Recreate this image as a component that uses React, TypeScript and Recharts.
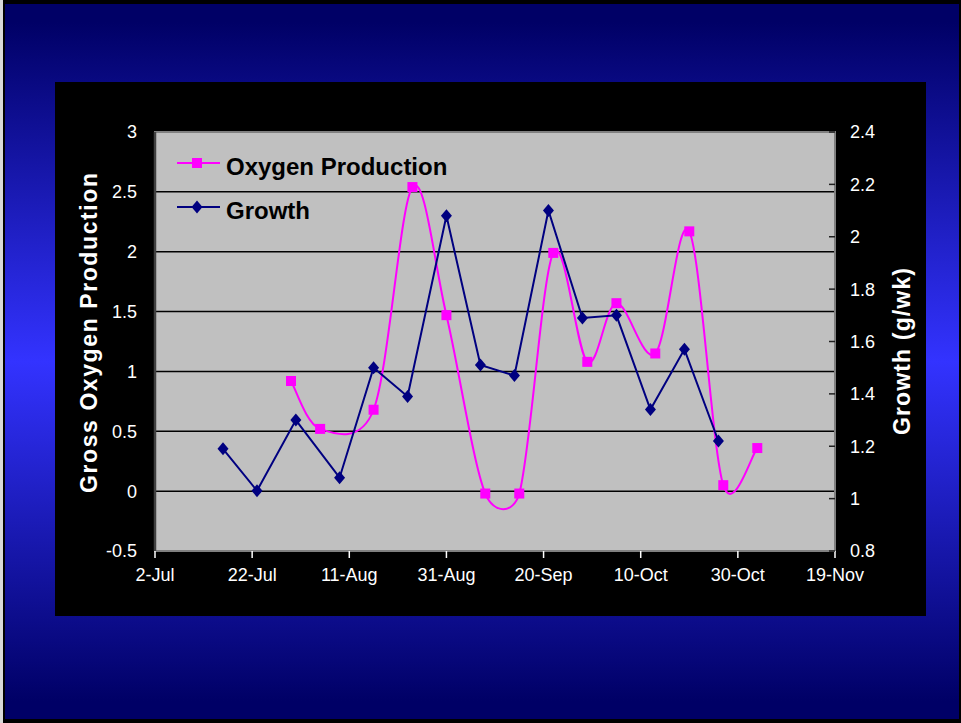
import React from 'react';
import {
  LineChart,
  Line,
  XAxis,
  YAxis,
  CartesianGrid,
  ReferenceArea,
  Customized,
} from 'recharts';

// Sampling days, counted from 2 July
const growthDays = [14, 21, 29, 38, 45, 52, 60, 67, 74, 81, 88, 95, 102, 109, 116];
const growthValues = [1.19, 1.03, 1.3, 1.08, 1.5, 1.39, 2.08, 1.51, 1.47, 2.1, 1.69, 1.7, 1.34, 1.57, 1.22];

const oxygenDays = [28, 34, 45, 53, 60, 68, 75, 82, 89, 95, 103, 110, 117, 124];
const oxygenValues = [0.92, 0.52, 0.68, 2.54, 1.47, -0.02, -0.02, 1.99, 1.08, 1.57, 1.15, 2.17, 0.05, 0.36];

const xTicks = [0, 20, 40, 60, 80, 100, 120, 140];
const xTickLabels = ['2-Jul', '22-Jul', '11-Aug', '31-Aug', '20-Sep', '10-Oct', '30-Oct', '19-Nov'];

const leftTicks = [-0.5, 0, 0.5, 1, 1.5, 2, 2.5, 3];
const rightTicks = [0.8, 1, 1.2, 1.4, 1.6, 1.8, 2, 2.2, 2.4];

const legendItems = [
  { name: 'Oxygen Production', color: '#FF00FF', marker: 'square' },
  { name: 'Growth', color: '#000080', marker: 'diamond' },
];

const growthData = growthDays.map((day, i) => ({ day, value: growthValues[i] }));
const oxygenData = oxygenDays.map((day, i) => ({ day, value: oxygenValues[i] }));

const FONT = "'Liberation Sans', Arial, Helvetica, sans-serif";
const MAGENTA = '#FF00FF';
const NAVY = '#000080';

// Smoothed spline in the style of spreadsheet "smoothed line" charts:
// cubic Bezier segments with Catmull-Rom tangents, clamped on short segments.
function controlPoint(
  p: number[],
  prev: number[],
  next: number[],
  seg: number,
  sign: number
): number[] {
  let dx = (next[0] - prev[0]) / 6;
  let dy = (next[1] - prev[1]) / 6;
  const len = Math.hypot(dx, dy);
  const max = seg * 0.65;
  if (len > max && len > 0) {
    dx *= max / len;
    dy *= max / len;
  }
  return [p[0] + sign * dx, p[1] + sign * dy];
}

function smoothCurve(context: any) {
  let pts: number[][] = [];
  return {
    areaStart() {},
    areaEnd() {},
    lineStart() {
      pts = [];
    },
    point(x: number, y: number) {
      pts.push([+x, +y]);
    },
    lineEnd() {
      const n = pts.length;
      if (n === 0) return;
      context.moveTo(pts[0][0], pts[0][1]);
      for (let i = 0; i < n - 1; i++) {
        const p0 = pts[Math.max(i - 1, 0)];
        const p1 = pts[i];
        const p2 = pts[i + 1];
        const p3 = pts[Math.min(i + 2, n - 1)];
        const seg = Math.hypot(p2[0] - p1[0], p2[1] - p1[1]);
        const c1 = controlPoint(p1, p0, p2, seg, 1);
        const c2 = controlPoint(p2, p1, p3, seg, -1);
        context.bezierCurveTo(c1[0], c1[1], c2[0], c2[1], p2[0], p2[1]);
      }
    },
  };
}

const SquareDot = (props: any) => {
  const { cx, cy, index } = props;
  if (cx == null || cy == null) return <g key={`sq-${index}`} />;
  return <rect key={`sq-${index}`} x={cx - 5} y={cy - 5} width={10} height={10} fill={MAGENTA} />;
};

const DiamondDot = (props: any) => {
  const { cx, cy, index } = props;
  if (cx == null || cy == null) return <g key={`dm-${index}`} />;
  return (
    <polygon
      key={`dm-${index}`}
      points={`${cx},${cy - 6.5} ${cx + 5.5},${cy} ${cx},${cy + 6.5} ${cx - 5.5},${cy}`}
      fill={NAVY}
    />
  );
};

const LegendBlock = () => (
  <g>
    {legendItems.map((item, i) => {
      const y = 81 + i * 44;
      const mx = 142;
      return (
        <g key={item.name}>
          <line x1={122} x2={165} y1={y} y2={y} stroke={item.color} strokeWidth={2} />
          {item.marker === 'square' ? (
            <rect x={mx - 5} y={y - 5} width={10} height={10} fill={item.color} />
          ) : (
            <polygon
              points={`${mx},${y - 6.5} ${mx + 5.5},${y} ${mx},${y + 6.5} ${mx - 5.5},${y}`}
              fill={item.color}
            />
          )}
          <text
            x={171}
            y={y + 11.5}
            fontFamily={FONT}
            fontWeight="bold"
            fontSize={24}
            fill="#000000"
          >
            {item.name}
          </text>
        </g>
      );
    })}
  </g>
);

const LeftTitle = (props: any) => {
  const vb = props.viewBox || {};
  const x = vb.x + 12;
  const y = vb.y + vb.height / 2 - 8.5;
  return (
    <text
      x={x}
      y={y}
      transform={`rotate(-90, ${x}, ${y})`}
      textAnchor="middle"
      fontFamily={FONT}
      fontWeight="bold"
      fontSize={23}
      fill="#FFFFFF"
      textLength={320}
      lengthAdjust="spacing"
    >
      Gross Oxygen Production
    </text>
  );
};

const RightTitle = (props: any) => {
  const vb = props.viewBox || {};
  const x = vb.x + 75;
  const y = vb.y + vb.height / 2 + 10;
  return (
    <text
      x={x}
      y={y}
      transform={`rotate(-90, ${x}, ${y})`}
      textAnchor="middle"
      fontFamily={FONT}
      fontWeight="bold"
      fontSize={23}
      fill="#FFFFFF"
      textLength={167}
      lengthAdjust="spacing"
    >
      Growth (g/wk)
    </text>
  );
};

const tickStyle = { fill: '#FFFFFF', fontSize: 18, fontFamily: FONT };

export default function App() {
  return (
    <div
      style={{
        position: 'absolute',
        left: 0,
        top: 0,
        width: 961,
        height: 723,
        background: '#000000',
        overflow: 'hidden',
      }}
    >
      <div style={{ position: 'absolute', left: 0, top: 0, width: 3, height: 723, background: '#d8d8d8' }} />
      <div
        style={{
          position: 'absolute',
          left: 5,
          top: 4,
          width: 954,
          height: 715,
          background:
            'linear-gradient(to bottom, #000066 0%, #000066 2.5%, #3333FF 50%, #000066 97.5%, #000066 100%)',
        }}
      />
      <div
        style={{
          position: 'absolute',
          left: 55,
          top: 82,
          width: 871,
          height: 534,
          background: '#000000',
        }}
      >
        <LineChart
          width={871}
          height={534}
          margin={{ top: 50, right: 11, bottom: 25, left: 30 }}
        >
          <CartesianGrid
            yAxisId="left"
            vertical={false}
            horizontal
            stroke="#000000"
            strokeWidth={1.5}
            fill="#C0C0C0"
            fillOpacity={1}
          />
          <XAxis
            type="number"
            dataKey="day"
            domain={[0, 140]}
            ticks={xTicks}
            tickFormatter={(v: number) => xTickLabels[xTicks.indexOf(v)] ?? ''}
            allowDataOverflow
            height={40}
            axisLine={{ stroke: '#808080', strokeWidth: 2 }}
            tickLine={{ stroke: '#FFFFFF', strokeWidth: 1.5 }}
            tickSize={7}
            tickMargin={10}
            tick={tickStyle}
            interval={0}
          />
          <YAxis
            yAxisId="left"
            orientation="left"
            type="number"
            domain={[-0.5, 3]}
            ticks={leftTicks}
            width={70}
            axisLine={{ stroke: '#404040', strokeWidth: 2.5 }}
            tickLine={false}
            tickSize={0}
            tickMargin={18}
            tick={tickStyle}
            interval={0}
            label={{ content: <LeftTitle /> }}
          />
          <YAxis
            yAxisId="right"
            orientation="right"
            type="number"
            domain={[0.8, 2.4]}
            ticks={rightTicks}
            width={80}
            axisLine={{ stroke: '#808080', strokeWidth: 2 }}
            tickLine={{ stroke: '#202020', strokeWidth: 1.5 }}
            tickSize={-6}
            tickMargin={21}
            tick={tickStyle}
            interval={0}
            label={{ content: <RightTitle /> }}
          />
          <ReferenceArea
            yAxisId="left"
            x1={0}
            x2={140}
            y1={-0.5}
            y2={3}
            fill="none"
            stroke="#808080"
            strokeWidth={2}
            ifOverflow="visible"
          />
          <Line
            yAxisId="left"
            data={oxygenData}
            dataKey="value"
            type={smoothCurve as any}
            stroke={MAGENTA}
            strokeWidth={2}
            dot={SquareDot}
            activeDot={false}
            isAnimationActive={false}
          />
          <Line
            yAxisId="right"
            data={growthData}
            dataKey="value"
            type="linear"
            stroke={NAVY}
            strokeWidth={2}
            dot={DiamondDot}
            activeDot={false}
            isAnimationActive={false}
          />
          <Customized component={LegendBlock} />
        </LineChart>
      </div>
    </div>
  );
}
